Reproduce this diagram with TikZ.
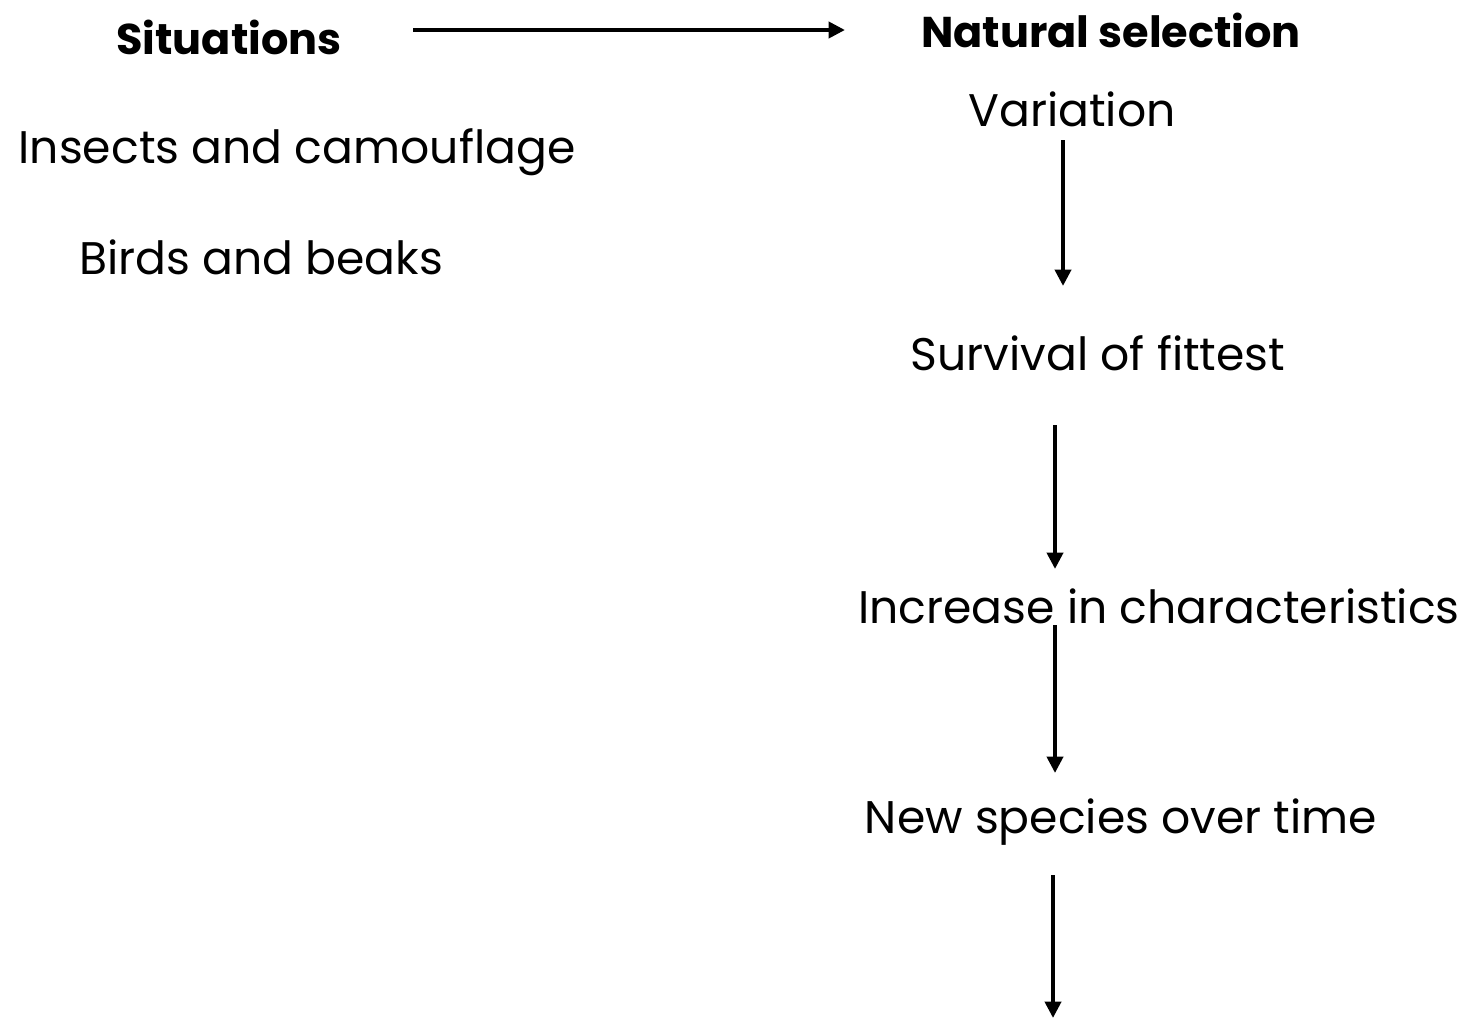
\documentclass[tikz,border=0pt]{standalone}
\usepackage{fontspec}
\setmainfont{Poppins}
\usetikzlibrary{arrows.meta,positioning}
\tikzset{
  label/.style={font=\fontsize{26}{30}\selectfont,text=black,inner sep=0pt},
  heading/.style={font=\bfseries\fontsize{24.5}{28}\selectfont,text=black,inner sep=0pt},
  arr/.style={-{Triangle[length=0.33cm,width=0.32cm]},draw=black,line width=2.4pt}
}
\begin{document}
\begin{tikzpicture}[x=0.02cm,y=-0.02cm]
\path[use as bounding box,fill=white] (0,0) rectangle (1466,1018);
% left column
\node[heading] (sit) at (229,37) {Situations};
\node[label] (insects) at (297,152) {Insects and camouflage};
\node[label] (birds) at (261,257) {Birds and beaks};
% right column
\node[heading] (nat) at (1111,30) {Natural selection};
\node[label] (var) at (1072,109) {Variation};
\node[label] (surv) at (1098,353) {Survival of fittest};
\node[label] (incr) at (1159,606) {Increase in characteristics};
\node[label] (newsp) at (1121,822) {New species over time};
% arrow ends
\coordinate (top1) at (413,30);
\coordinate (top2) at (845,30);
\coordinate (v1a) at (1063,140);
\coordinate (v1b) at (1063,286);
\coordinate (v2a) at (1055,425);
\coordinate (v2b) at (1055,569);
\coordinate (v3a) at (1055,625);
\coordinate (v3b) at (1055,773);
\coordinate (v4a) at (1053,875);
\coordinate (v4b) at (1053,1018);
\draw[arr] (top1) -- (top2);
\draw[arr] (v1a) -- (v1b);
\draw[arr] (v2a) -- (v2b);
\draw[arr] (v3a) -- (v3b);
\draw[arr] (v4a) -- (v4b);
\end{tikzpicture}
\end{document}
